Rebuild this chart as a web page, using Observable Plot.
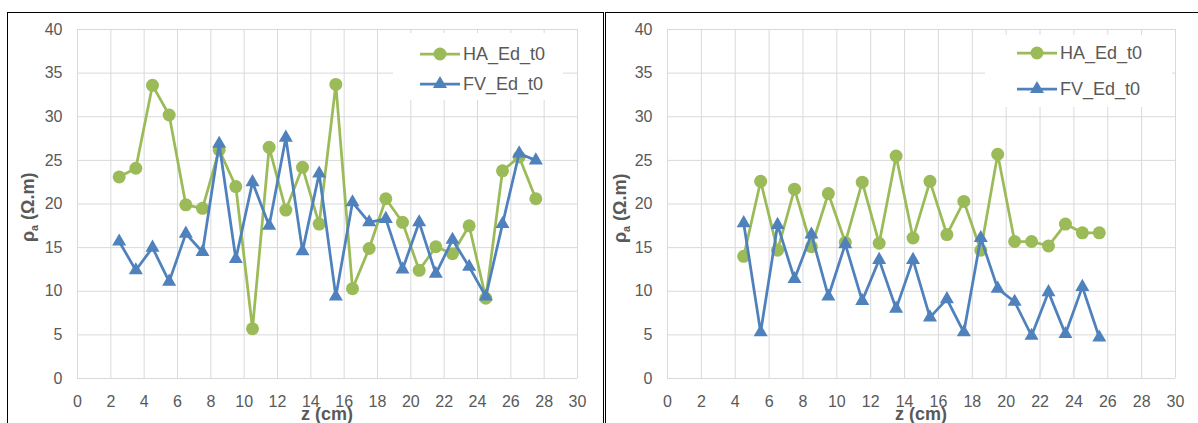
<!DOCTYPE html>
<html><head><meta charset="utf-8">
<script src="https://cdn.jsdelivr.net/npm/d3@7"></script>
<script src="https://cdn.jsdelivr.net/npm/@observablehq/plot@0.6"></script>
<style>
body{margin:0;width:1198px;height:423px;overflow:hidden;background:#fff;position:relative;font-family:"Liberation Sans",Arial,sans-serif;}
.abs{position:absolute;}
.frame{position:absolute;top:11.5px;height:430px;border-top:1.5px solid #000;border-left:1.5px solid #000;box-sizing:border-box;}
.ylab{position:absolute;width:200px;text-align:center;font-weight:bold;font-size:18px;color:#595959;transform:rotate(-90deg);line-height:20px;white-space:nowrap;}
.xlab{position:absolute;width:200px;text-align:center;font-weight:bold;font-size:18px;color:#595959;line-height:20px;white-space:nowrap;}
.legend{position:absolute;background:#fff;}
</style>
</head><body>
<div class="frame" style="left:7px;width:597px;border-right:1.5px solid #000;"></div>
<div class="frame" style="left:604.5px;width:600px;"></div>
<div id="left" class="abs" style="left:0;top:0;"></div>
<div id="right" class="abs" style="left:603px;top:0;"></div>
<script>
const seriesNames = ["HA_Ed_t0", "FV_Ed_t0"];
const seriesColors = ["#9BBB59", "#4F81BD"];
const xTicks = [0, 2, 4, 6, 8, 10, 12, 14, 16, 18, 20, 22, 24, 26, 28, 30];
const yTicks = [0, 5, 10, 15, 20, 25, 30, 35, 40];
const yLabel = "ρ<sub style='font-size:60%'>a</sub> (Ω.m)";
const xLabel = "z (cm)";

// Left panel
const zLeft = [2.5, 3.5, 4.5, 5.5, 6.5, 7.5, 8.5, 9.5, 10.5, 11.5, 12.5, 13.5, 14.5, 15.5, 16.5, 17.5, 18.5, 19.5, 20.5, 21.5, 22.5, 23.5, 24.5, 25.5, 26.5, 27.5];
const haLeft = [23.1, 24.1, 33.6, 30.2, 19.9, 19.5, 26.2, 22.0, 5.7, 26.5, 19.3, 24.2, 17.7, 33.7, 10.3, 14.9, 20.6, 17.9, 12.4, 15.1, 14.3, 17.5, 9.2, 23.8, 25.4, 20.6];
const fvLeft = [15.7, 12.4, 15.0, 11.1, 16.6, 14.5, 26.9, 13.7, 22.5, 17.5, 27.6, 14.6, 23.5, 9.4, 20.2, 17.9, 18.3, 12.5, 17.9, 12.0, 15.9, 12.8, 9.4, 17.7, 25.8, 25.0];

// Right panel
const zRight = [4.5, 5.5, 6.5, 7.5, 8.5, 9.5, 10.5, 11.5, 12.5, 13.5, 14.5, 15.5, 16.5, 17.5, 18.5, 19.5, 20.5, 21.5, 22.5, 23.5, 24.5, 25.5];
const haRight = [14.0, 22.6, 14.7, 21.7, 15.1, 21.2, 15.6, 22.5, 15.5, 25.5, 16.1, 22.6, 16.5, 20.3, 14.7, 25.7, 15.7, 15.7, 15.2, 17.7, 16.7, 16.7];
const fvRight = [17.8, 5.3, 17.6, 11.4, 16.5, 9.4, 15.4, 8.9, 13.6, 8.0, 13.6, 7.0, 9.1, 5.3, 16.1, 10.3, 8.8, 4.9, 9.9, 5.1, 10.5, 4.7];

function makePlot(z, ha, fv, width, marginLeft, marginRight) {
  const haData = z.map((x, i) => ({z: x, v: ha[i]}));
  const fvData = z.map((x, i) => ({z: x, v: fv[i]}));
  return Plot.plot({
    width, height: 423,
    marginTop: 29, marginBottom: 45, marginLeft, marginRight,
    style: {fontFamily: '"Liberation Sans", Arial, sans-serif', fontSize: "16px", color: "#595959", background: "transparent", overflow: "visible"},
    x: {domain: [0, 30]},
    y: {domain: [0, 40]},
    marks: [
      Plot.gridX(xTicks, {stroke: "#d9d9d9", strokeOpacity: 1, strokeWidth: 1}),
      Plot.gridY(yTicks, {stroke: "#d9d9d9", strokeOpacity: 1, strokeWidth: 1}),
      Plot.axisX(xTicks, {tickSize: 0, tickPadding: 17, fontSize: 16, label: null}),
      Plot.axisY(yTicks, {tickSize: 0, tickPadding: 15, fontSize: 16, label: null}),
      Plot.line(haData, {x: "z", y: "v", stroke: seriesColors[0], strokeWidth: 2.75}),
      Plot.dot(haData, {x: "z", y: "v", symbol: "circle", r: 6.5, fill: seriesColors[0], stroke: null}),
      Plot.line(fvData, {x: "z", y: "v", stroke: seriesColors[1], strokeWidth: 2.75}),
      Plot.dot(fvData, {x: "z", y: "v", symbol: "triangle", r: 5.2, fill: seriesColors[1], stroke: null})
    ]
  });
}

document.getElementById("left").append(makePlot(zLeft, haLeft, fvLeft, 603, 77, 26));
document.getElementById("right").append(makePlot(zRight, haRight, fvRight, 595, 64, 23));

function addLabels(yx, yy, xx, xy) {
  const yl = document.createElement("div");
  yl.className = "ylab"; yl.innerHTML = yLabel;
  yl.style.left = (yx - 100) + "px"; yl.style.top = (yy - 10) + "px";
  document.body.append(yl);
  const xl = document.createElement("div");
  xl.className = "xlab"; xl.textContent = xLabel;
  xl.style.left = (xx - 100) + "px"; xl.style.top = (xy - 10) + "px";
  document.body.append(xl);
}
addLabels(31, 204, 327, 414);
addLabels(623, 205, 921, 414);

function addLegend(left, top, w, h, rows, lineX0, lineX1, textX) {
  const div = document.createElement("div");
  div.className = "legend";
  Object.assign(div.style, {left: left + "px", top: top + "px", width: w + "px", height: h + "px"});
  const svg = d3.create("svg").attr("width", w).attr("height", h).style("overflow", "visible");
  seriesNames.forEach((name, i) => {
    const g = svg.append("g").attr("transform", `translate(0,${rows[i]})`);
    g.append("line").attr("x1", lineX0).attr("x2", lineX1).attr("stroke", seriesColors[i]).attr("stroke-width", 2.75);
    const cx = (lineX0 + lineX1) / 2;
    if (i === 0) g.append("circle").attr("cx", cx).attr("r", 6.5).attr("fill", seriesColors[i]);
    else g.append("path").attr("transform", `translate(${cx},0)`).attr("d", d3.symbol(d3.symbolTriangle, 85)()).attr("fill", seriesColors[i]);
    g.append("text").attr("x", textX).attr("dy", "0.35em").attr("fill", "#595959")
      .style("font-size", "18px").style("font-family", '"Liberation Sans", Arial, sans-serif').text(name);
  });
  div.append(svg.node());
  document.body.append(div);
}
addLegend(393, 33, 170, 67, [21, 51], 27, 67, 70);
addLegend(985, 35, 187, 72, [18, 54], 32, 72, 75);
</script>
</body></html>
